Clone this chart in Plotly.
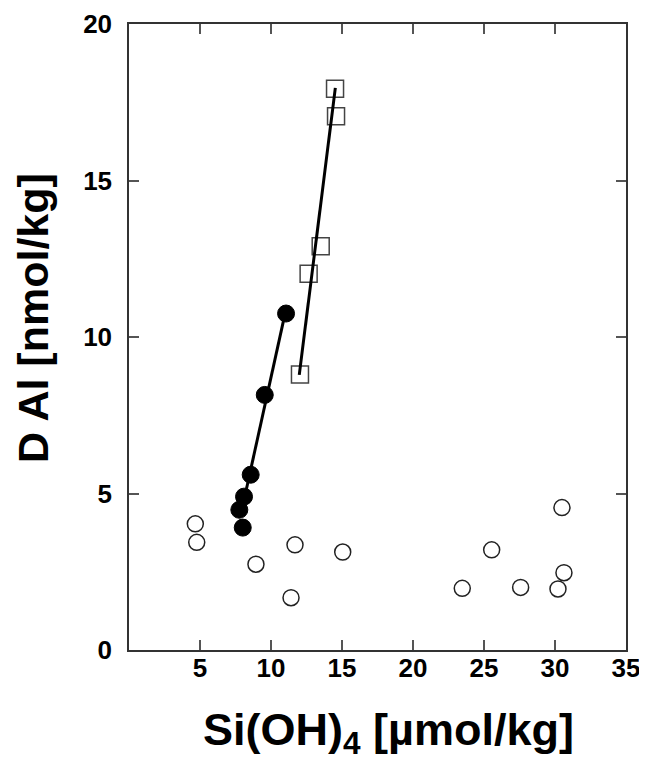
import plotly.graph_objects as go

# Open circles
open_x = [4.67, 4.77, 8.94, 11.69, 11.41, 15.05, 23.47, 25.54, 27.58, 30.21, 30.49, 30.63]
open_y = [4.03, 3.44, 2.74, 3.36, 1.67, 3.13, 1.97, 3.20, 2.00, 1.95, 4.55, 2.47]
# Filled circles
filled_x = [8.01, 7.77, 8.10, 8.57, 9.56, 11.06]
filled_y = [3.91, 4.48, 4.90, 5.60, 8.15, 10.75]
# Open squares
square_x = [12.04, 12.65, 13.50, 14.58, 14.51]
square_y = [8.80, 12.02, 12.90, 17.05, 17.93]
# Fit lines
filled_fit_x = [8.2, 11.0]
filled_fit_y = [5.0, 10.77]
square_fit_x = [11.99, 14.53]
square_fit_y = [8.79, 17.96]

x_ticks = [5, 10, 15, 20, 25, 30, 35]
y_ticks = [0, 5, 10, 15, 20]

x_title = "Si(OH)<sub>4</sub> [µmol/kg]"
y_title = "D Al [nmol/kg]"

FONT = "Liberation Sans, Arial, Helvetica, sans-serif"

fig = go.Figure()
fig.add_trace(go.Scatter(x=open_x, y=open_y, mode="markers",
                         marker=dict(symbol="circle-open", size=16, color="#222",
                                     line=dict(width=1.5, color="#222"))))
fig.add_trace(go.Scatter(x=square_x, y=square_y, mode="markers",
                         marker=dict(symbol="square-open", size=17, color="#444",
                                     line=dict(width=1.5, color="#444"))))
fig.add_trace(go.Scatter(x=filled_x, y=filled_y, mode="markers",
                         marker=dict(symbol="circle", size=17, color="black",
                                     line=dict(width=1, color="black"))))
fig.add_trace(go.Scatter(x=filled_fit_x, y=filled_fit_y, mode="lines",
                         line=dict(color="black", width=3)))
fig.add_trace(go.Scatter(x=square_fit_x, y=square_fit_y, mode="lines",
                         line=dict(color="black", width=3)))

axis_common = dict(showgrid=False, zeroline=False, showline=True, linecolor="#333",
                   linewidth=1.5, mirror="ticks", ticks="inside", ticklen=10,
                   tickwidth=1.5, tickcolor="#555", ticklabeloverflow="allow",
                   tickfont=dict(family=FONT, size=26, color="black", weight="bold"))

fig.update_xaxes(range=[0, 35], tickvals=x_ticks, ticktext=[str(v) for v in x_ticks],
                 ticklabelstandoff=-6, **axis_common)
fig.update_yaxes(range=[0, 20], tickvals=y_ticks, ticktext=[str(v) for v in y_ticks],
                 ticklabelstandoff=10, **axis_common)

fig.add_annotation(text=x_title, xref="paper", yref="paper", x=0.5, y=0,
                   xanchor="center", yanchor="top", xshift=11, yshift=-52,
                   showarrow=False,
                   font=dict(family=FONT, size=45, color="black", weight="bold"))
fig.add_annotation(text=y_title, xref="paper", yref="paper", x=0, y=0.5,
                   xanchor="center", yanchor="middle", xshift=-96, yshift=19,
                   textangle=-90, showarrow=False,
                   font=dict(family=FONT, size=43, color="black", weight="bold"))

fig.update_layout(width=639, height=766, showlegend=False,
                  paper_bgcolor="white", plot_bgcolor="white",
                  margin=dict(l=121, r=21, t=16, b=124, autoexpand=False))

fig.write_html("out.html")
